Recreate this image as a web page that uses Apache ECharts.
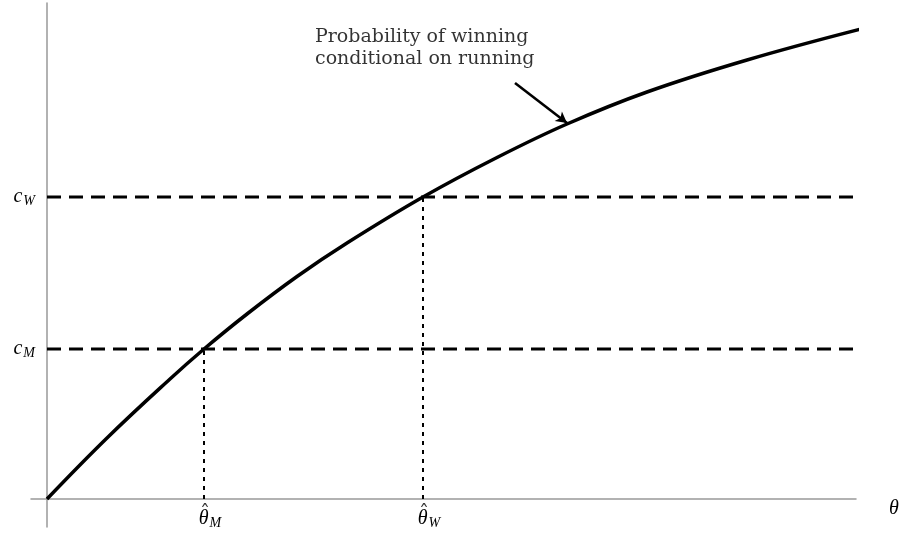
<!DOCTYPE html>
<html>
<head>
<meta charset="utf-8">
<script src="https://cdn.jsdelivr.net/npm/echarts@6/dist/echarts.min.js"></script>
<style>
  html, body { margin: 0; padding: 0; background: #fff; }
  #chart { width: 904px; height: 542px; }
</style>
</head>
<body>
<div id="chart"></div>
<script>
// Probability of winning, conditional on running, as a function of theta
const curveTheta = [0, 0.60, 1.23, 1.57, 2.00, 2.50, 3.00, 3.76, 4.50, 5.20, 6.00, 7.00, 8.14];
const curveProb  = [0, 0.122, 0.240, 0.300, 0.370, 0.445, 0.512, 0.604, 0.683, 0.750, 0.814, 0.878, 0.940];

// Cost thresholds and the matching cut-off types
const costLabels = ['M', 'W'];
const costValues = [0.300, 0.604];
const thetaHat   = [1.57, 3.76];
const thresholdEnd = 8.07;

// Annotation anchor and arrow
const noteText  = 'Probability of winning\nconditional on running';
const notePoint = [3.75, 0.902];
const arrowFrom = [4.68, 0.832];
const arrowTo   = [5.20, 0.752];

const serifItalic = 'Liberation Serif';

const chart = echarts.init(document.getElementById('chart'));

const series = [];

series.push({
  type: 'line',
  data: curveTheta.map((t, i) => [t, curveProb[i]]),
  smooth: 0.4,
  showSymbol: false,
  clip: false,
  lineStyle: { color: '#000', width: 3.5 },
  z: 5,
  markLine: {
    silent: true,
    symbol: ['none', 'arrow'],
    symbolSize: [9, 11],
    lineStyle: { color: '#000', width: 2.6, type: 'solid' },
    label: { show: false },
    data: [[{ coord: arrowFrom }, { coord: arrowTo }]]
  }
});

costValues.forEach((c, i) => {
  // horizontal dashed threshold
  series.push({
    type: 'line',
    data: [[0, c], [thresholdEnd, c]],
    showSymbol: false,
    lineStyle: { color: '#000', width: 3, type: [14, 8] },
    z: 3
  });
  // vertical dotted drop line
  series.push({
    type: 'line',
    data: [[thetaHat[i], 0], [thetaHat[i], c]],
    showSymbol: false,
    lineStyle: { color: '#000', width: 2, type: [4, 5] },
    z: 3
  });
});

// circumflex accents over the theta-hat tick labels
series.push({
  type: 'scatter',
  data: thetaHat.map((t) => [t, 0]),
  symbolSize: 0,
  silent: true,
  clip: false,
  label: {
    show: true,
    position: 'inside',
    formatter: 'ˆ',
    color: '#000',
    fontFamily: 'DejaVu Serif',
    fontSize: 20,
    offset: [1, 16]
  }
});

// annotation text
series.push({
  type: 'scatter',
  data: [notePoint],
  symbolSize: 0,
  silent: true,
  label: {
    show: true,
    position: 'inside',
    formatter: noteText,
    color: '#000',
    fontFamily: 'DejaVu Serif',
    fontSize: 19,
    lineHeight: 22,
    align: 'left',
    offset: [-107, 0]
  }
});

const richSub = {
  b: { fontFamily: serifItalic, fontStyle: 'italic', fontSize: 20, color: '#000' },
  h: { fontFamily: serifItalic, fontStyle: 'italic', fontSize: 20, lineHeight: 20, color: '#000', padding: [0, 0, 0, 12] },
  s: { fontFamily: serifItalic, fontStyle: 'italic', fontSize: 14, color: '#000', padding: [9, 0, 0, 1] }
};

chart.setOption({
  animation: false,
  backgroundColor: '#fff',
  grid: { left: 31, right: 48, top: 3, bottom: 15, containLabel: false, outerBoundsMode: 'none' },
  xAxis: {
    type: 'value',
    min: -0.16,
    max: 8.09,
    name: 'θ',
    nameLocation: 'end',
    nameGap: 33,
    nameTextStyle: { fontFamily: serifItalic, fontStyle: 'italic', fontSize: 20, color: '#000', verticalAlign: 'top' },
    axisLine: { onZero: true, lineStyle: { color: '#999', width: 1.5 } },
    axisTick: { show: false },
    splitLine: { show: false },
    axisLabel: {
      customValues: thetaHat,
      margin: -20,
      formatter: (v) => {
        const i = thetaHat.indexOf(v);
        return '{h|θ}{s|' + costLabels[i] + '}';
      },
      rich: richSub
    }
  },
  yAxis: {
    type: 'value',
    min: -0.056,
    max: 0.992,
    axisLine: { onZero: true, lineStyle: { color: '#999', width: 1.5 } },
    axisTick: { show: false },
    splitLine: { show: false },
    axisLabel: {
      customValues: costValues,
      margin: -4,
      formatter: (v) => {
        const i = costValues.indexOf(v);
        return '{b|c}{s|' + costLabels[i] + '}';
      },
      rich: richSub
    }
  },
  series: series
});
</script>
</body>
</html>
